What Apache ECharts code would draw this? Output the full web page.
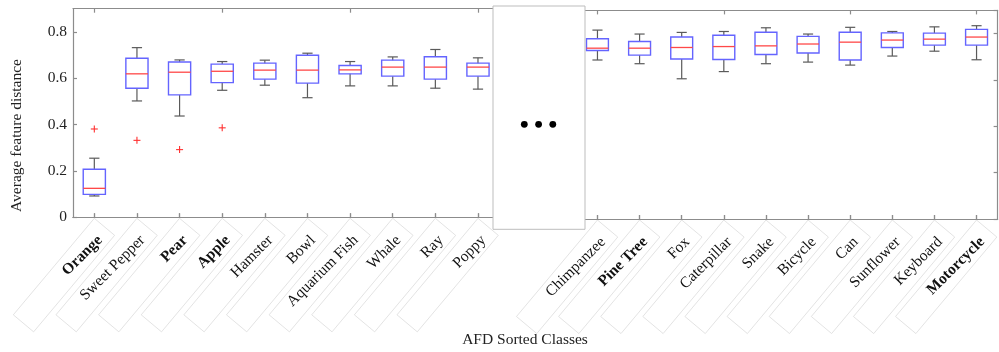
<!DOCTYPE html>
<html><head><meta charset="utf-8">
<script src="https://cdn.jsdelivr.net/npm/echarts@6/dist/echarts.min.js"></script>
<style>html,body{margin:0;padding:0;background:#fff}#c{width:999px;height:352px}</style>
</head><body><div id="c"></div>
<script>
const leftCategories = ['Orange','Sweet Pepper','Pear','Apple','Hamster','Bowl','Aquarium Fish','Whale','Ray','Poppy'];
const rightCategories = ['Chimpanzee','Pine Tree','Fox','Caterpillar','Snake','Bicycle','Can','Sunflower','Keyboard','Motorcycle'];
const boldCategories = ['Orange','Pear','Apple','Pine Tree','Motorcycle'];

const leftLow    = [0.092,0.502,0.437,0.548,0.570,0.516,0.567,0.567,0.557,0.553];
const leftQ1     = [0.099,0.557,0.528,0.581,0.596,0.579,0.619,0.609,0.596,0.609];
const leftMedian = [0.125,0.619,0.626,0.630,0.635,0.635,0.636,0.648,0.648,0.648];
const leftQ3     = [0.207,0.686,0.670,0.661,0.665,0.699,0.655,0.678,0.693,0.665];
const leftHigh   = [0.255,0.732,0.679,0.672,0.678,0.708,0.672,0.692,0.724,0.688];
const leftOutliers = [[0,0.381],[1,0.332],[2,0.292],[3,0.386]];

const rightLow    = [0.686,0.670,0.605,0.636,0.670,0.677,0.664,0.703,0.724,0.687];
const rightQ1     = [0.727,0.707,0.690,0.688,0.710,0.716,0.686,0.740,0.750,0.750];
const rightMedian = [0.737,0.737,0.740,0.744,0.747,0.755,0.763,0.772,0.776,0.785];
const rightQ3     = [0.778,0.766,0.785,0.793,0.806,0.788,0.806,0.803,0.802,0.818];
const rightHigh   = [0.815,0.798,0.805,0.809,0.825,0.798,0.827,0.809,0.829,0.834];
const rightOutliers = [];

const yMin = 0, yMax = 0.9, yInterval = 0.2;
const yTitle = 'Average feature distance';
const xTitle = 'AFD Sorted Classes';

const FONT = 'Liberation Serif, Times New Roman, serif';
const FS = 15.5;
const AXIS_COLOR = '#8c8c8c';

function boxData(low,q1,med,q3,high){
  return low.map((v,i)=>[i,v,q1[i],med[i],q3[i],high[i]]);
}

function renderBox(params, api){
  const i = api.value(0);
  const lo = api.coord([i, api.value(1)]);
  const q1 = api.coord([i, api.value(2)]);
  const md = api.coord([i, api.value(3)]);
  const q3 = api.coord([i, api.value(4)]);
  const hi = api.coord([i, api.value(5)]);
  const band = api.size([1,0])[0];
  const bw = band*0.52, cw = band*0.24;
  const x = lo[0];
  const wStyle = {stroke:'#5a5a5a', lineWidth:1.2};
  return {type:'group', children:[
    {type:'line', shape:{x1:x,y1:hi[1],x2:x,y2:q3[1]}, style:wStyle},
    {type:'line', shape:{x1:x,y1:q1[1],x2:x,y2:lo[1]}, style:wStyle},
    {type:'line', shape:{x1:x-cw/2,y1:hi[1],x2:x+cw/2,y2:hi[1]}, style:wStyle},
    {type:'line', shape:{x1:x-cw/2,y1:lo[1],x2:x+cw/2,y2:lo[1]}, style:wStyle},
    {type:'rect', shape:{x:x-bw/2,y:q3[1],width:bw,height:q1[1]-q3[1]}, style:{fill:'none',stroke:'#6464ff',lineWidth:1.4}},
    {type:'line', shape:{x1:x-bw/2,y1:md[1],x2:x+bw/2,y2:md[1]}, style:{stroke:'#ff4848',lineWidth:1.3}}
  ]};
}

function renderOutlier(params, api){
  const p = api.coord([api.value(0), api.value(1)]);
  const s = 3.5;
  const st = {stroke:'#ff3030', lineWidth:1.1};
  return {type:'group', children:[
    {type:'line', shape:{x1:p[0]-s,y1:p[1],x2:p[0]+s,y2:p[1]}, style:st},
    {type:'line', shape:{x1:p[0],y1:p[1]-s,x2:p[0],y2:p[1]+s}, style:st}
  ]};
}

function catLabel(){
  return {
    show:true, interval:0, rotate:45, margin:15, verticalAlign:'top',
    fontFamily:FONT, fontSize:FS, color:'#111',
    formatter: v => boldCategories.includes(v) ? '{b|'+v+'}' : v,
    rich:{b:{fontFamily:FONT,fontSize:FS,fontWeight:'bold',color:'#111'}}
  };
}
function frameLabel(){
  return {
    show:true, interval:0, rotate:50, margin:1, align:'right', verticalAlign:'top',
    width:126, height:26.5, overflow:'none', padding:0,
    fontFamily:FONT, fontSize:FS, color:'rgba(0,0,0,0)',
    borderColor:'#dadada', borderWidth:0.7,
    formatter: () => ' '
  };
}
function xAx(grid, cats, pos, label, z){
  return {gridIndex:grid, type:'category', data:cats, position:pos, boundaryGap:true, z:z||0,
    axisLine:{show:true,lineStyle:{color:AXIS_COLOR,width:1.2}},
    axisTick:{show:true,inside:true,length:4,alignWithLabel:true,lineStyle:{color:AXIS_COLOR,width:1.2}},
    axisLabel: label || {show:false},
    splitLine:{show:false}};
}
function yAx(grid, pos, labels){
  return {gridIndex:grid, type:'value', min:yMin, max:yMax, interval:yInterval, position:pos,
    axisLine:{show:true,lineStyle:{color:AXIS_COLOR,width:1.2}},
    axisTick:{show:true,inside:true,length:4,lineStyle:{color:AXIS_COLOR,width:1.2}},
    axisLabel: labels ? {show:true, showMaxLabel:false, margin:6, fontFamily:FONT, fontSize:FS, color:'#222'} : {show:false},
    splitLine:{show:false}};
}

const chart = echarts.init(document.getElementById('c'), null, {renderer:'canvas'});
chart.setOption({
  animation:false,
  backgroundColor:'#fff',
  grid:[
    {left:73, top:8.7, width:426.3, height:208.6},
    {left:576.4, top:10.4, width:426.7, height:208.6}
  ],
  xAxis:[
    xAx(0,leftCategories,'bottom',frameLabel()),
    xAx(0,leftCategories,'bottom',catLabel(),1),
    xAx(0,leftCategories,'top',null),
    xAx(1,rightCategories,'bottom',frameLabel()),
    xAx(1,rightCategories,'bottom',catLabel(),1),
    xAx(1,rightCategories,'top',null)
  ],
  yAxis:[
    yAx(0,'left',true),
    yAx(0,'right',false),
    yAx(1,'left',false),
    yAx(1,'right',false)
  ],
  series:[
    {type:'custom', xAxisIndex:1, yAxisIndex:0, z:5, renderItem:renderBox, data:boxData(leftLow,leftQ1,leftMedian,leftQ3,leftHigh), encode:{x:0,y:[1,2,3,4,5]}},
    {type:'custom', xAxisIndex:1, yAxisIndex:0, z:5, renderItem:renderOutlier, data:leftOutliers, encode:{x:0,y:1}},
    {type:'custom', xAxisIndex:4, yAxisIndex:2, z:5, renderItem:renderBox, data:boxData(rightLow,rightQ1,rightMedian,rightQ3,rightHigh), encode:{x:0,y:[1,2,3,4,5]}},
    {type:'custom', xAxisIndex:4, yAxisIndex:2, z:5, renderItem:renderOutlier, data:rightOutliers, encode:{x:0,y:1}}
  ],
  graphic:[
    {type:'rect', z:100, shape:{x:493,y:6,width:92,height:223.3}, style:{fill:'#fff',stroke:'#bdbdbd',lineWidth:1}},
    {type:'circle', z:101, shape:{cx:524.3,cy:124.3,r:3.4}, style:{fill:'#000'}},
    {type:'circle', z:101, shape:{cx:538.6,cy:124.3,r:3.4}, style:{fill:'#000'}},
    {type:'circle', z:101, shape:{cx:552.8,cy:124.3,r:3.4}, style:{fill:'#000'}},
    {type:'text', z:101, x:17, y:135.5, rotation:Math.PI/2, style:{text:yTitle, fontFamily:FONT, fontSize:FS, fill:'#222', align:'center', verticalAlign:'middle'}},
    {type:'text', z:101, x:525, y:340, style:{text:xTitle, fontFamily:FONT, fontSize:FS, fill:'#222', align:'center', verticalAlign:'middle'}}
  ]
});
</script>
</body></html>
